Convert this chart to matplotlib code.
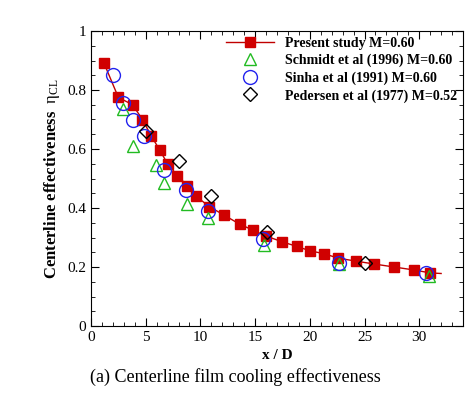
import matplotlib.pyplot as plt
from matplotlib.lines import Line2D

pres_x = [1.2, 2.5, 3.8, 4.7, 5.5, 6.3, 7.0, 7.9, 8.8, 9.6, 10.8, 12.2, 13.6, 14.8, 16.0,
          17.5, 18.8, 20.0, 21.3, 22.6, 24.2, 25.9, 27.7, 29.5, 31.0]
pres_y = [0.89, 0.775, 0.75, 0.70, 0.645, 0.595, 0.55, 0.51, 0.475, 0.44, 0.405, 0.375, 0.345,
          0.325, 0.305, 0.285, 0.27, 0.255, 0.245, 0.23, 0.22, 0.21, 0.20, 0.19, 0.18]
line_x = pres_x + [32.0]
line_y = pres_y + [0.178]
sch_x = [2.9, 3.8, 5.9, 6.7, 8.8, 10.7, 15.8, 22.7, 30.9]
sch_y = [0.735, 0.61, 0.545, 0.485, 0.415, 0.365, 0.275, 0.21, 0.17]
sin_x = [2.0, 2.9, 3.8, 4.8, 6.7, 8.7, 10.7, 15.7, 22.7, 30.6]
sin_y = [0.85, 0.755, 0.70, 0.645, 0.53, 0.46, 0.39, 0.295, 0.215, 0.18]
ped_x = [5.0, 8.0, 11.0, 16.1, 25.0]
ped_y = [0.66, 0.56, 0.44, 0.32, 0.215]

plt.rcParams['font.family'] = 'Liberation Serif'
plt.rcParams['mathtext.fontset'] = 'custom'
plt.rcParams['mathtext.rm'] = 'Liberation Serif'
fig = plt.figure(figsize=(4.71, 4.15), dpi=100)
ax = fig.add_axes([91/471, (415-326)/415, (463-91)/471, (326-31)/415])
ax.plot(line_x, line_y, color='#c00000', lw=1)
ax.plot(pres_x, pres_y, 's', color='#d00000', ms=7, label='Present study M=0.60')
ax.plot(sch_x, sch_y, '^', mfc='none', mec='#22bb22', ms=9, label='Schmidt et al (1996) M=0.60')
ax.plot(sin_x, sin_y, 'o', mfc='none', mec='#2222ee', ms=10, label='Sinha et al (1991) M=0.60')
ax.plot(ped_x, ped_y, 'D', mfc='none', mec='black', ms=7, label='Pedersen et al (1977) M=0.52')

h, l = ax.get_legend_handles_labels()
h[0] = Line2D([], [], color='#c00000', lw=1, marker='s', mfc='#d00000', mec='#d00000', ms=7)
ax.legend(h, l, loc='upper right', frameon=False, prop={'weight': 'bold', 'size': 10},
          handlelength=3.5, borderaxespad=0.0, labelspacing=0.3, bbox_to_anchor=(1.0, 1.0))

ax.set_xlim(0, 34)
ax.set_ylim(0, 1)
ax.set_xticks([0, 5, 10, 15, 20, 25, 30])
ax.set_xticks(range(0, 35, 1), minor=True)
ax.set_yticks([0, 0.2, 0.4, 0.6, 0.8, 1])
ax.set_yticklabels(['0', '0.2', '0.4', '0.6', '0.8', '1'])
ax.set_yticks([i * 0.05 for i in range(21)], minor=True)
ax.tick_params(direction='in', which='both', top=True, right=True, labelsize=11)
ax.tick_params(which='major', length=6)
ax.tick_params(which='minor', length=3)
ax.set_xlabel('x / D', fontweight='bold', fontsize=11)
ax.set_ylabel(r'Centerline effectiveness  $\mathrm{\eta_{CL}}$', fontweight='bold', fontsize=12)
fig.text(0.5, 0.08, '(a) Centerline film cooling effectiveness', ha='center', fontsize=13)
fig.savefig('out.png', dpi=100)
